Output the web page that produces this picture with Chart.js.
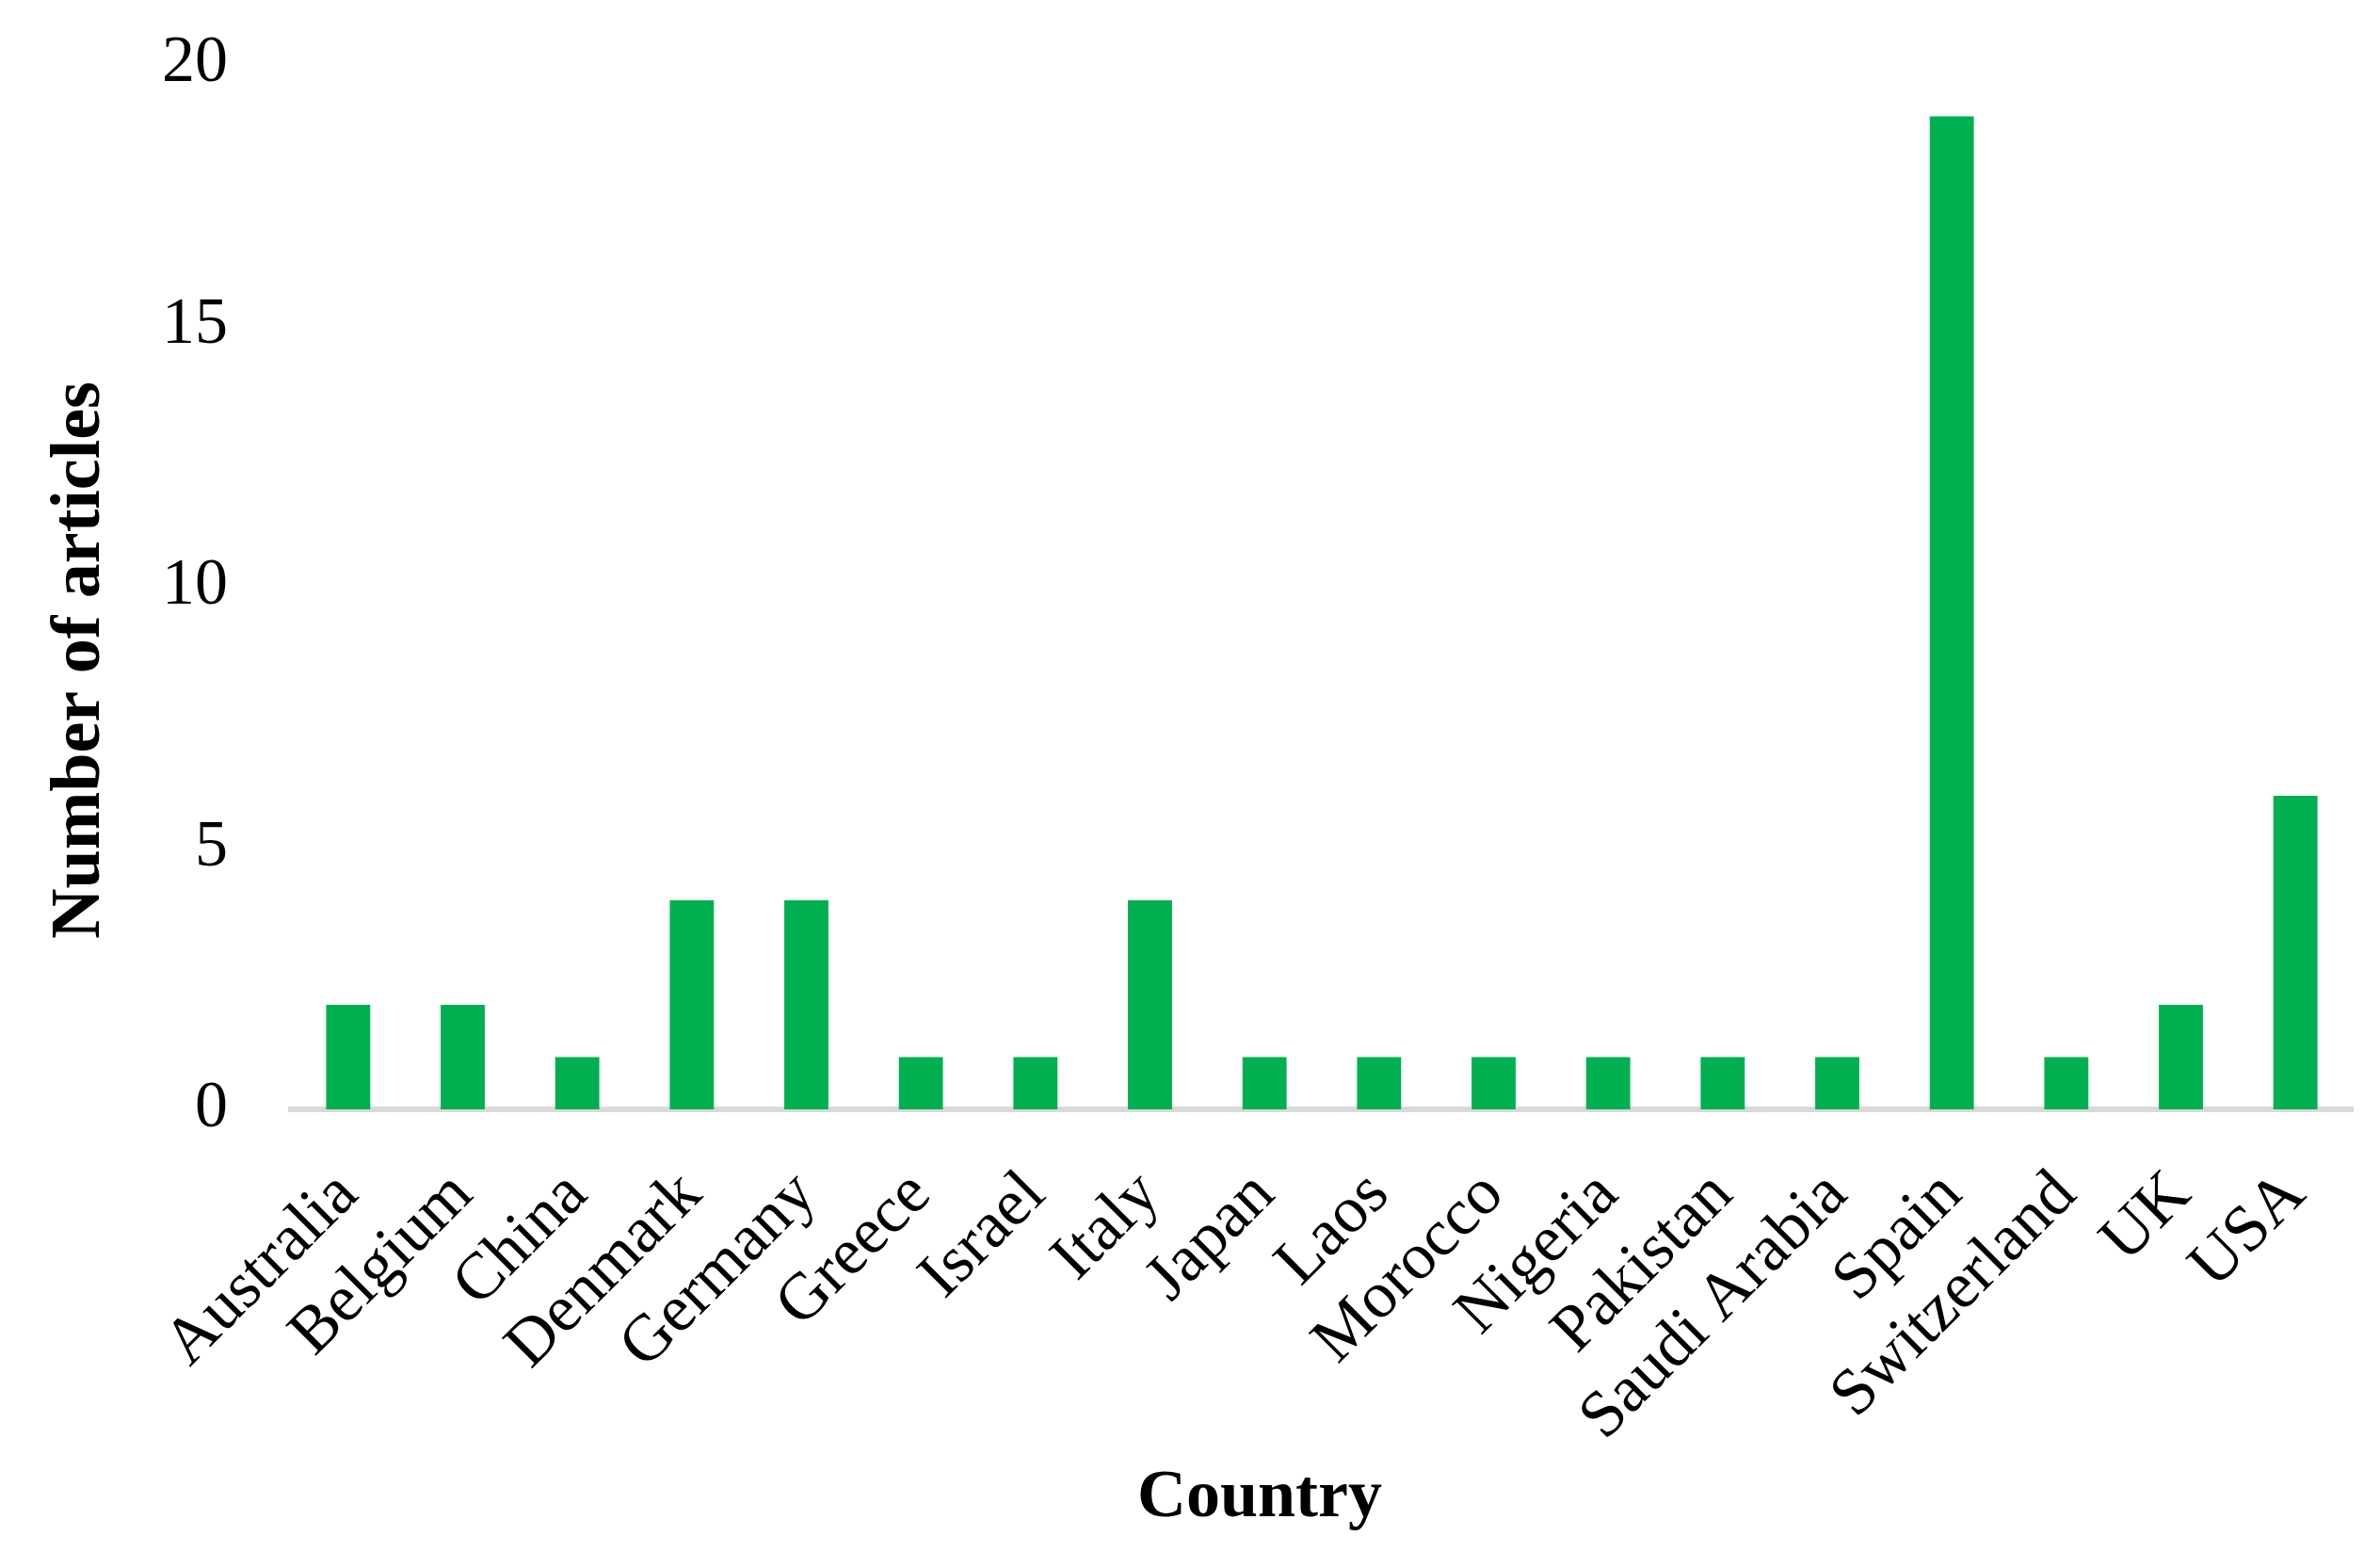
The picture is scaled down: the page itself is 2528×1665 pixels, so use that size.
<!DOCTYPE html>
<html>
<head>
<meta charset="utf-8">
<script src="https://cdn.jsdelivr.net/npm/chart.js@4.4.0/dist/chart.umd.min.js"></script>
<style>
  html, body { margin: 0; padding: 0; background: #fff; }
  #wrap { width: 2528px; height: 1665px; }
</style>
</head>
<body>
<div id="wrap"><canvas id="articlesChart" width="2528" height="1665"></canvas></div>
<script>
// data
const countries = ['Australia', 'Belgium', 'China', 'Denmark', 'Germany', 'Greece', 'Israel', 'Italy',
    'Japan', 'Laos', 'Morocco', 'Nigeria', 'Pakistan', 'Saudi Arabia', 'Spain', 'Switzerland', 'UK', 'USA'];
const articleCounts = [2, 2, 1, 4, 4, 1, 1, 4, 1, 1, 1, 1, 1, 1, 19, 1, 2, 6];
const yTicks = [0, 5, 10, 15, 20];

const serif = "'Liberation Serif', 'Times New Roman', serif";

// axis titles drawn by hand, Excel puts them a bit off the plot centre
const axisTitles = {
    id: 'axisTitles',
    afterDraw(chart) {
        const c = chart.ctx;
        const area = chart.chartArea;
        c.save();
        c.fillStyle = '#000';
        c.textAlign = 'center';
        c.textBaseline = 'middle';
        c.font = 'bold 72px ' + serif;
        c.fillText('Country', (area.left + area.right) / 2 - 66, chart.height - 74);

        c.translate(86, (area.top + area.bottom) / 2 + 78);
        c.rotate(-Math.PI / 2);
        c.font = 'bold 74px ' + serif;
        c.fillText('Number of articles', 0, 0);
        c.restore();
    }
};

window.onload = function() {
    const ctx = document.getElementById('articlesChart').getContext('2d');

    new Chart(ctx, {
        type: 'bar',
        data: {
            labels: countries,
            datasets: [{
                label: 'Number of articles',
                data: articleCounts,
                backgroundColor: '#00B050',
                categoryPercentage: 1.0,
                barPercentage: 0.385
            }]
        },
        options: {
            responsive: false,
            animation: false,
            layout: { padding: { top: 68, right: 29, left: 0, bottom: 0 } },
            plugins: {
                legend: { display: false },
                tooltip: { enabled: false }
            },
            scales: {
                x: {
                    grid: { display: false, drawTicks: false },
                    border: { display: true, color: '#d9d9d9', width: 6 },
                    ticks: {
                        color: '#000',
                        font: { family: serif, size: 70 },
                        minRotation: 45,
                        maxRotation: 45,
                        autoSkip: false,
                        padding: 50
                    },
                    afterFit: function(scale) {
                        scale.height = 487;
                        scale.paddingLeft = 0;
                        scale.paddingRight = 0;
                    }
                },
                y: {
                    min: 0,
                    max: 20,
                    grid: { display: false, drawTicks: false },
                    border: { display: false },
                    afterBuildTicks: function(scale) {
                        scale.ticks = yTicks.map(v => ({ value: v }));
                    },
                    ticks: {
                        color: '#000',
                        font: { family: serif, size: 70 },
                        padding: 67
                    },
                    afterFit: function(scale) {
                        scale.width = 309;
                        scale.paddingTop = 0;
                        scale.paddingBottom = 0;
                    }
                }
            }
        },
        plugins: [axisTitles]
    });
};
</script>
</body>
</html>
